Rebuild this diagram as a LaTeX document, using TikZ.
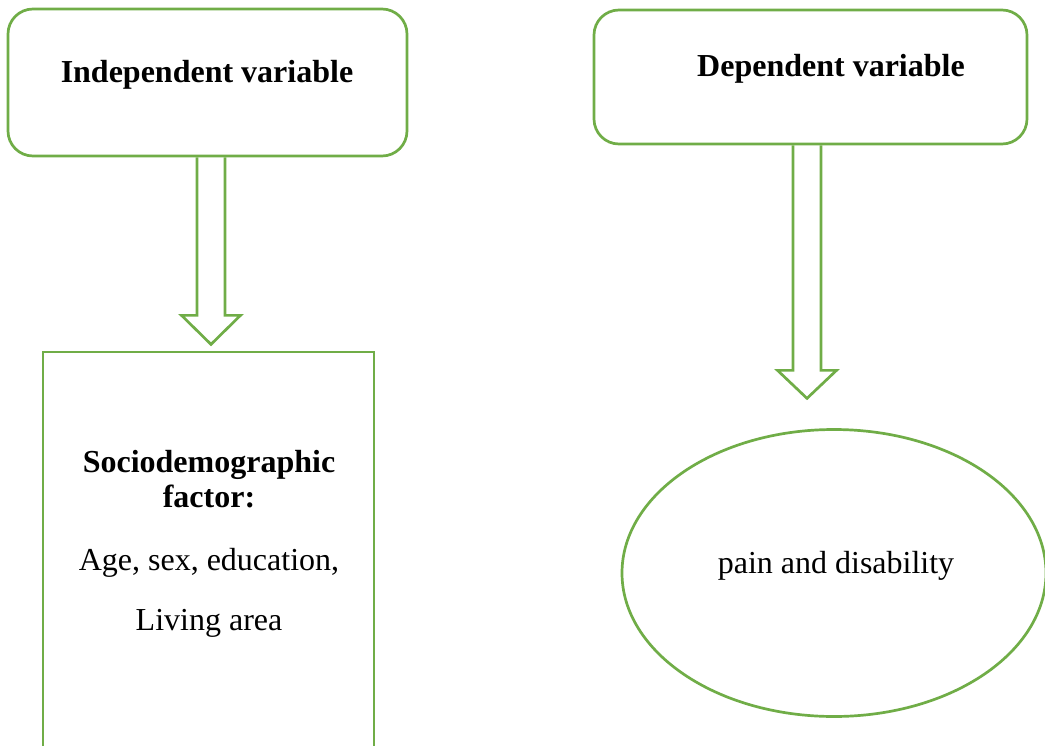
\documentclass[tikz,border=0pt]{standalone}
\usepackage{fontspec}
\setmainfont{Liberation Serif}
\usetikzlibrary{shapes.geometric}
\definecolor{lgreen}{HTML}{70AD47}
\tikzset{
  frame/.style={draw=lgreen, line width=2.7pt, fill=white},
  roundbox/.style={frame, rectangle, rounded corners=25pt, inner sep=0pt},
  plainbox/.style={frame, rectangle, inner sep=0pt},
  oval/.style={frame, ellipse, inner sep=0pt},
  blockarrow/.style={draw=lgreen, line width=2.7pt, line join=miter},
  label/.style={anchor=base, font=\fontsize{32}{36}\selectfont, inner sep=0pt},
  blabel/.style={label, font=\fontsize{32}{36}\selectfont\bfseries}
}
\begin{document}
\begin{tikzpicture}[x=1pt, y=-1pt]
\useasboundingbox (0,0) rectangle (1045,745);
% boxes
\node[roundbox, minimum width=399pt, minimum height=147pt] (lbox) at (207.5,82.5) {};
\node[roundbox, minimum width=433pt, minimum height=134pt] (rbox) at (810.5,77) {};
\node[plainbox, minimum width=331pt, minimum height=460pt] (rect) at (208.5,582) {};
\node[oval, minimum width=424pt, minimum height=287pt] (ell) at (834,573) {};
% arrows
\coordinate (la) at ([xshift=3.5pt]lbox.south);
\coordinate (ra) at ([xshift=-3.5pt]rbox.south);
\draw[blockarrow] (la) ++(-14,0) -- ++(0,158) -- ++(-15.5,0) -- ++(29.5,29) -- ++(29.5,-29) -- ++(-15.5,0) -- ++(0,-158);
\draw[blockarrow] (ra) ++(-14,0) -- ++(0,225) -- ++(-15.5,0) -- ++(29.5,28) -- ++(29.5,-28) -- ++(-15.5,0) -- ++(0,-225);
% texts
\node[blabel] (t1) at (207,82) {Independent variable};
\node[blabel] (t2) at (831,76) {Dependent variable};
\node[blabel] (t3) at (209,472) {Sociodemographic};
\node[blabel] (t4) at (209,507) {factor:};
\node[label] (t5) at (209,570) {Age, sex, education,};
\node[label] (t6) at (209,630) {Living area};
\node[label] (t7) at (836,573) {pain and disability};
\end{tikzpicture}
\end{document}
